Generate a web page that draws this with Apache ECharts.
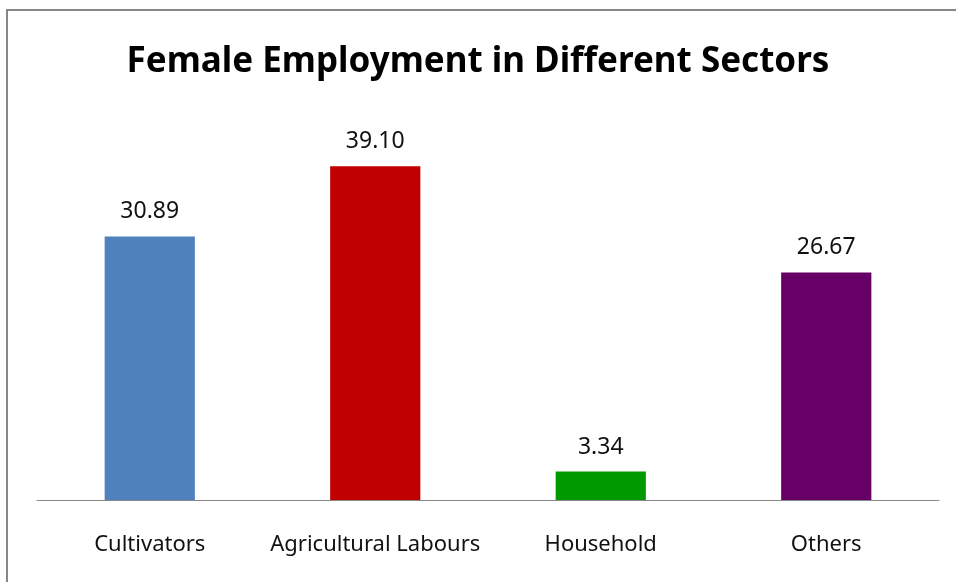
<!DOCTYPE html>
<html>
<head>
<meta charset="utf-8">
<script src="https://cdn.jsdelivr.net/npm/echarts@6/dist/echarts.min.js"></script>
<style>
  html, body { margin: 0; padding: 0; background: #fff; }
  #chart { width: 956px; height: 582px; }
</style>
</head>
<body>
<div id="chart"></div>
<script>
  // sectors and their female employment share
  var categories = ['Cultivators', 'Agricultural Labours', 'Household', 'Others'];
  var values = [30.89, 39.10, 3.34, 26.67];
  var barColors = ['#4F81BD', '#C00000', '#009900', '#660066'];

  var chart = echarts.init(document.getElementById('chart'));

  var option = {
    animation: false,
    backgroundColor: '#fff',
    textStyle: { fontFamily: 'Noto Sans' },
    title: {
      text: 'Female Employment in Different Sectors',
      left: 'center',
      top: 40,
      textStyle: { fontFamily: 'Noto Sans', fontWeight: 'bold', fontSize: 35, color: '#000' }
    },
    // outer frame, runs off the right and bottom edge like the source
    graphic: [{
      type: 'rect',
      shape: { x: 7, y: 10, width: 1200, height: 1000 },
      style: { fill: 'none', stroke: '#878787', lineWidth: 2 },
      silent: true
    }],
    grid: { left: 37, right: 17, top: 116, bottom: 82 },
    xAxis: {
      type: 'category',
      data: categories,
      axisLine: { lineStyle: { color: '#888', width: 1 } },
      axisTick: { show: false },
      axisLabel: { color: '#111', fontSize: 22, margin: 34, interval: 0 }
    },
    yAxis: {
      type: 'value',
      min: 0,
      max: 45,
      show: false,
      splitLine: { show: false }
    },
    series: [{
      type: 'bar',
      barWidth: '40%',
      data: values.map(function (v, i) {
        return { value: v, itemStyle: { color: barColors[i] } };
      }),
      label: {
        show: true,
        position: 'top',
        distance: 13,
        fontSize: 23,
        color: '#111',
        formatter: function (p) { return p.value.toFixed(2); }
      }
    }]
  };
  chart.setOption(option);
</script>
</body>
</html>
